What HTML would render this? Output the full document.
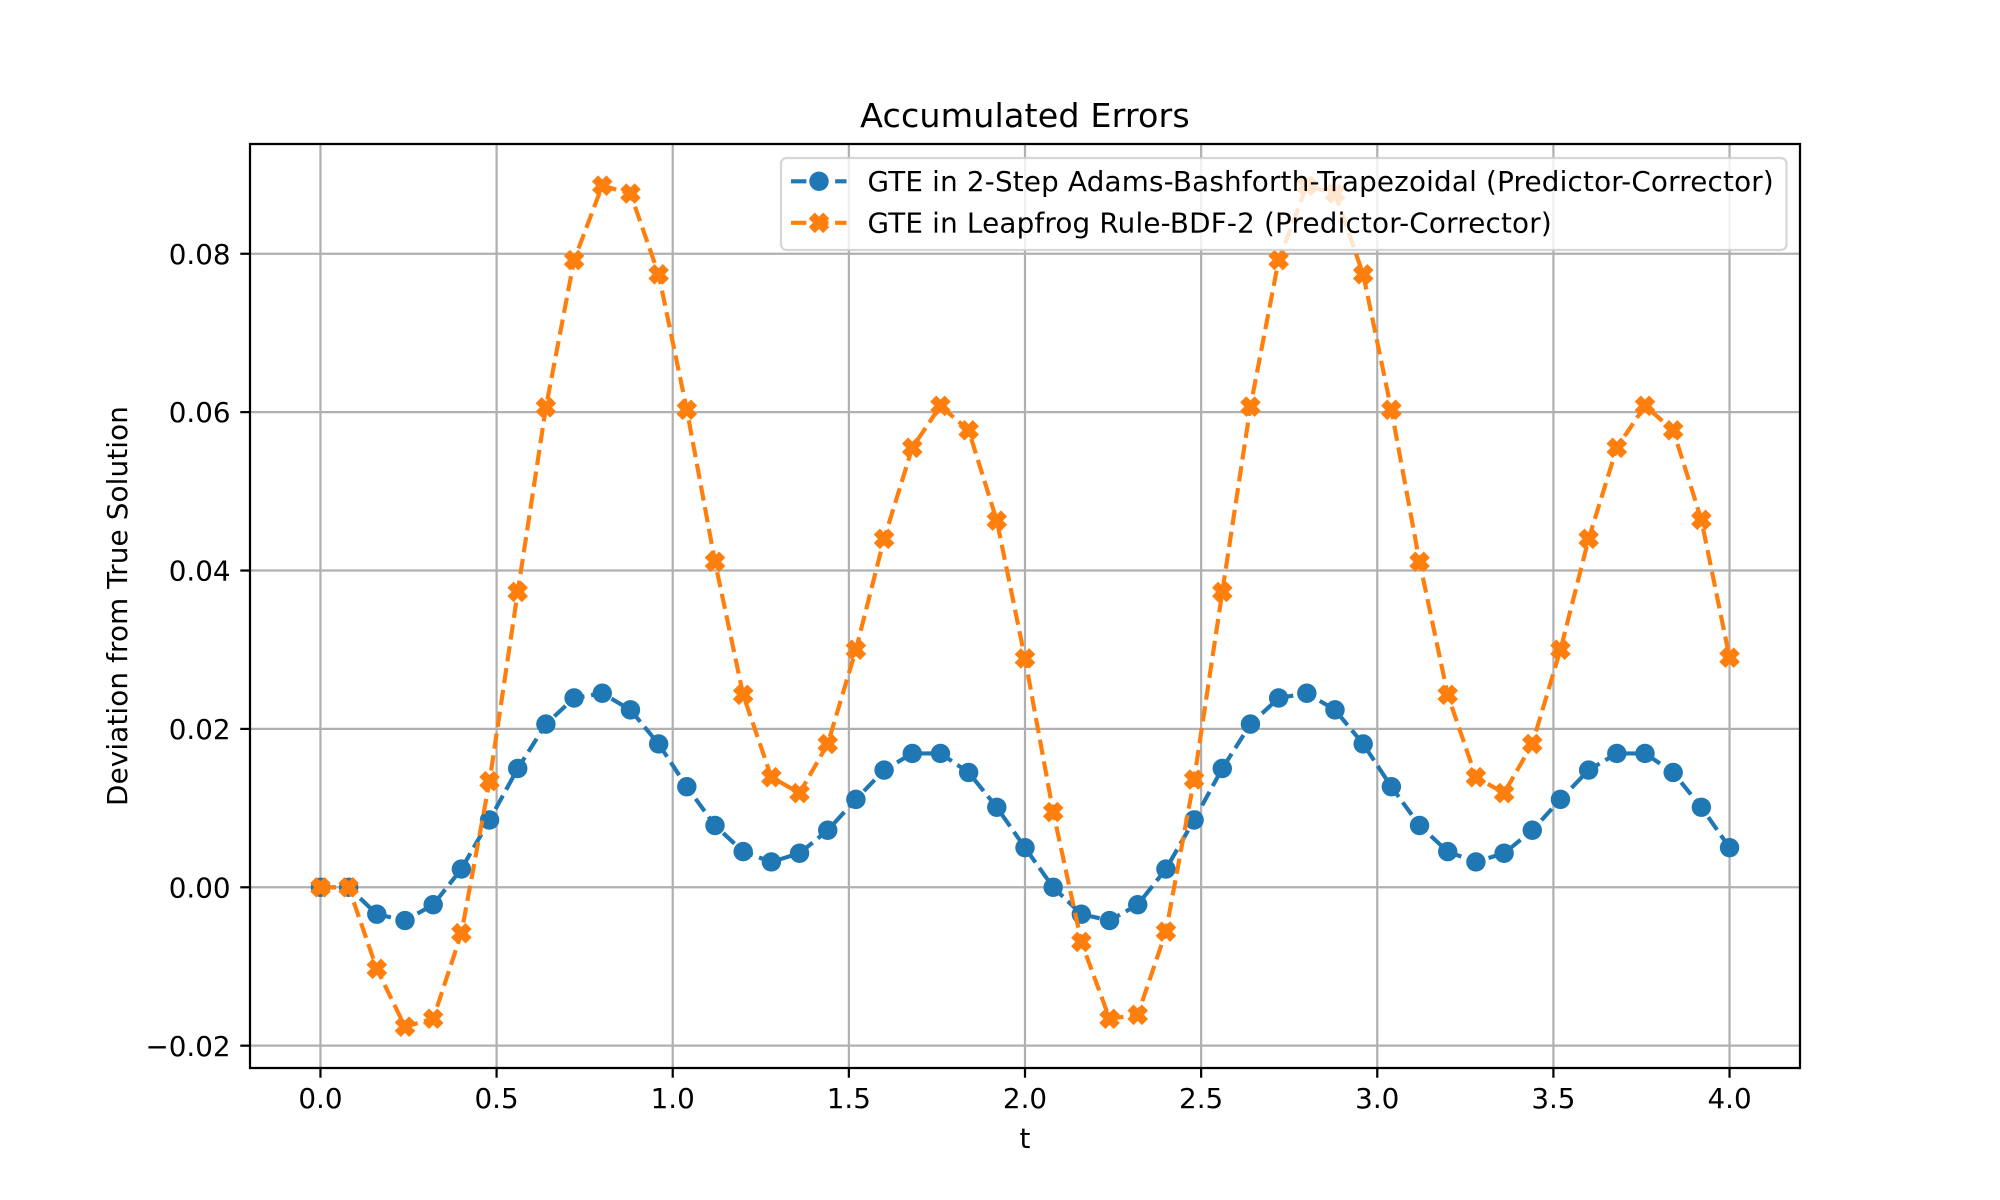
<!DOCTYPE html>
<html>
<head>
<meta charset="utf-8">
<title>Accumulated Errors</title>
<style>
html,body{margin:0;padding:0;background:#fff;}
svg{display:block;}
text{font-family:"DejaVu Sans","Liberation Sans",sans-serif;fill:#000;}
</style>
</head>
<body>
<svg id="chart" xmlns="http://www.w3.org/2000/svg" width="2000" height="1200" viewBox="0 0 2000 1200">
  <rect x="0" y="0" width="2000" height="1200" fill="#fff"/>
  <rect x="250" y="144" width="1550" height="924" fill="#fff"/>
  <g id="grid"></g>
  <g id="series"></g>
  <g id="spines">
    <line x1="250" y1="142.9" x2="250" y2="1069.1" stroke="#000" stroke-width="2.22"/>
    <line x1="1800" y1="142.9" x2="1800" y2="1069.1" stroke="#000" stroke-width="2.22"/>
    <line x1="250" y1="144" x2="1800" y2="144" stroke="#000" stroke-width="2.22"/>
    <line x1="250" y1="1068" x2="1800" y2="1068" stroke="#000" stroke-width="2.22"/>
  </g>
  <g id="ticks"></g>
  <text x="1025" y="127" font-size="33.33" text-anchor="middle" letter-spacing="0.14">Accumulated Errors</text>
  <text x="1025" y="1148" font-size="27.78" text-anchor="middle">t</text>
  <text x="127" y="606" font-size="27.78" text-anchor="middle" letter-spacing="0.14" transform="rotate(-90 127 606)">Deviation from True Solution</text>
  <g id="legend">
    <rect x="781" y="158" width="1005.5" height="92" rx="5.6" ry="5.6" fill="#fff" fill-opacity="0.8" stroke="#ccc" stroke-opacity="0.8" stroke-width="2.22"/>
    <line x1="791" y1="181.3" x2="846.5" y2="181.3" stroke="#1f77b4" stroke-width="4.17" stroke-dasharray="15.4 6.67"/>
    <circle cx="819" cy="181.3" r="9.72" fill="#1f77b4"/>
    <text x="867.5" y="191" font-size="27.78" letter-spacing="0.2">GTE in 2-Step Adams-Bashforth-Trapezoidal (Predictor-Corrector)</text>
    <line x1="791" y1="222.8" x2="846.5" y2="222.8" stroke="#ff7f0e" stroke-width="4.17" stroke-dasharray="15.4 6.67"/>
    <polygon points="814.83,214.47 819,218.63 823.17,214.47 827.33,218.63 823.17,222.8 827.33,226.97 823.17,231.13 819,226.97 814.83,231.13 810.67,226.97 814.83,222.8 810.67,218.63" fill="#ff7f0e" stroke="#ff7f0e" stroke-width="2.78" stroke-linejoin="miter"/>
    <text x="867.5" y="232.5" font-size="27.78" letter-spacing="0.2">GTE in Leapfrog Rule-BDF-2 (Predictor-Corrector)</text>
  </g>
</svg>
<script>
const times = [0,0.08,0.16,0.24,0.32,0.40,0.48,0.56,0.64,0.72,0.80,0.88,0.96,1.04,1.12,1.20,1.28,1.36,1.44,1.52,1.60,1.68,1.76,1.84,1.92,2.00,2.08,2.16,2.24,2.32,2.40,2.48,2.56,2.64,2.72,2.80,2.88,2.96,3.04,3.12,3.20,3.28,3.36,3.44,3.52,3.60,3.68,3.76,3.84,3.92,4.00];
const abmErrors = [0,0,-0.0034,-0.0042,-0.0022,0.0023,0.0085,0.015,0.0206,0.0239,0.0245,0.0224,0.0181,0.0127,0.0078,0.0045,0.0032,0.0043,0.0072,0.0111,0.0148,0.0169,0.0169,0.0145,0.0101,0.005,0,-0.0034,-0.0042,-0.0022,0.0023,0.0085,0.015,0.0206,0.0239,0.0245,0.0224,0.0181,0.0127,0.0078,0.0045,0.0032,0.0043,0.0072,0.0111,0.0148,0.0169,0.0169,0.0145,0.0101,0.005];
const leapfrogErrors = [0,0,-0.0103,-0.0176,-0.0166,-0.0058,0.0134,0.0373,0.0606,0.0792,0.0886,0.0876,0.0774,0.0603,0.0411,0.0243,0.0139,0.0119,0.0181,0.03,0.044,0.0555,0.0608,0.0577,0.0463,0.0289,0.0095,-0.0069,-0.0166,-0.0161,-0.0056,0.0136,0.0373,0.0607,0.0792,0.0886,0.0876,0.0774,0.0603,0.0411,0.0243,0.0139,0.0119,0.0181,0.03,0.044,0.0555,0.0608,0.0577,0.0464,0.029];
const xTickValues = [0,0.5,1,1.5,2,2.5,3,3.5,4];
const xTickLabels = ["0.0","0.5","1.0","1.5","2.0","2.5","3.0","3.5","4.0"];
const yTickValues = [-0.02,0,0.02,0.04,0.06,0.08];
const yTickLabels = ["\u22120.02","0.00","0.02","0.04","0.06","0.08"];

const NS = 'http://www.w3.org/2000/svg';
const xMin = -0.2, xMax = 4.2, yMin = -0.02282, yMax = 0.09386;
const plotLeft = 250, plotRight = 1800, plotTop = 144, plotBottom = 1068;
function xScale(v){ return plotLeft + (v - xMin) / (xMax - xMin) * (plotRight - plotLeft); }
function yScale(v){ return plotBottom - (v - yMin) / (yMax - yMin) * (plotBottom - plotTop); }
function make(tag, attrs, parent){
  const el = document.createElementNS(NS, tag);
  for (const k in attrs) el.setAttribute(k, attrs[k]);
  parent.appendChild(el);
  return el;
}
const gridG = document.getElementById('grid');
const ticksG = document.getElementById('ticks');
const seriesG = document.getElementById('series');

xTickValues.forEach(function(v, i){
  const x = xScale(v);
  const g = make('line', {x1:x, y1:plotTop, x2:x, y2:plotBottom, stroke:'#b0b0b0', 'stroke-width':2.22}, gridG);
  
  
  const t = make('line', {x1:x, y1:plotBottom, x2:x, y2:plotBottom + 9.72, stroke:'#000', 'stroke-width':2.22}, ticksG);
  
  
  const l = make('text', {x:x, y:1108, 'font-size':27.78, 'text-anchor':'middle'}, ticksG);
  l.textContent = xTickLabels[i];
  
  
});
yTickValues.forEach(function(v, i){
  const y = yScale(v);
  const g = make('line', {x1:plotLeft, y1:y, x2:plotRight, y2:y, stroke:'#b0b0b0', 'stroke-width':2.22}, gridG);
  
  
  const t = make('line', {x1:plotLeft - 9.72, y1:y, x2:plotLeft, y2:y, stroke:'#000', 'stroke-width':2.22}, ticksG);
  
  
  const l = make('text', {x:230.6, y:y + 10.1, 'font-size':27.78, 'text-anchor':'end'}, ticksG);
  l.textContent = yTickLabels[i];
  
  
});

function linePoints(values){
  return values.map(function(v, i){ return xScale(times[i]).toFixed(2) + ',' + yScale(v).toFixed(2); }).join(' ');
}
const xShape = [[-0.25,-0.5],[0,-0.25],[0.25,-0.5],[0.5,-0.25],[0.25,0],[0.5,0.25],[0.25,0.5],[0,0.25],[-0.25,0.5],[-0.5,0.25],[-0.25,0],[-0.5,-0.25]];
const markerSize = 16.67;

const blueLine = make('polyline', {points:linePoints(abmErrors), fill:'none', stroke:'#1f77b4', 'stroke-width':4.17, 'stroke-dasharray':'15.4 6.67'}, seriesG);


abmErrors.forEach(function(v, i){
  const c = make('circle', {cx:xScale(times[i]), cy:yScale(v), r:9.72, fill:'#1f77b4'}, seriesG);
  
  
});
const orangeLine = make('polyline', {points:linePoints(leapfrogErrors), fill:'none', stroke:'#ff7f0e', 'stroke-width':4.17, 'stroke-dasharray':'15.4 6.67'}, seriesG);


leapfrogErrors.forEach(function(v, i){
  const cx = xScale(times[i]), cy = yScale(v);
  const pts = xShape.map(function(p){ return (cx + p[0] * markerSize).toFixed(2) + ',' + (cy + p[1] * markerSize).toFixed(2); }).join(' ');
  const m = make('polygon', {points:pts, fill:'#ff7f0e', stroke:'#ff7f0e', 'stroke-width':2.78, 'stroke-linejoin':'miter'}, seriesG);
  
  
});
</script>
</body>
</html>
